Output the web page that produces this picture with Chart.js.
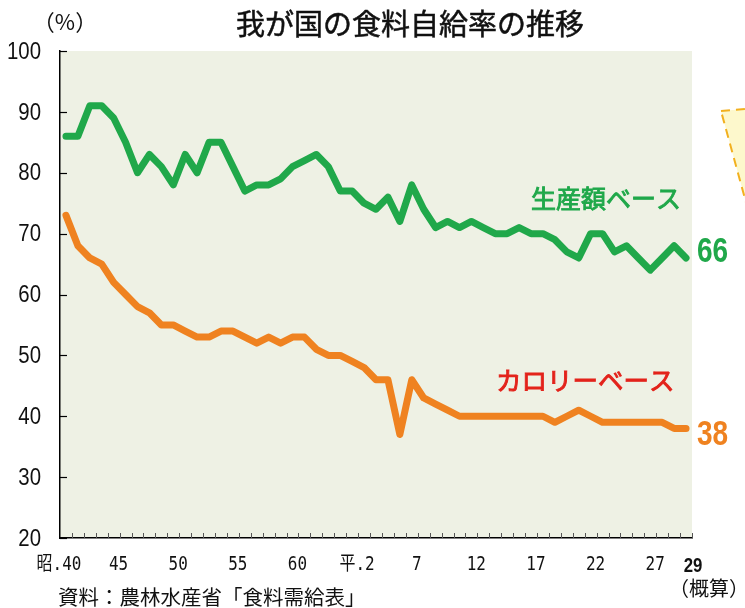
<!DOCTYPE html>
<html lang="ja">
<head>
  <meta charset="UTF-8" />
  <title>我が国の食料自給率の推移</title>
  <script src="https://cdn.jsdelivr.net/npm/chart.js"></script>
  <style>
    body { margin: 0; background: #fff; }
    canvas { display: block; }
  </style>
</head>
<body>
  <canvas id="chart" width="745" height="608"></canvas>
  <script>
    // 昭和40年(1965) 〜 平成29年(2017)
    const years = [];
    for (let y = 1965; y <= 2017; y++) years.push(y);

    // 生産額ベース
    const productionBase = [
      86, 86, 91, 91, 89, 85, 80, 83, 81, 78,
      83, 80, 85, 85, 81, 77, 78, 78, 79, 81,
      82, 83, 81, 77, 77, 75, 74, 76, 72, 78,
      74, 71, 72, 71, 72, 71, 70, 70, 71, 70,
      70, 69, 67, 66, 70, 70, 67, 68, 66, 64,
      66, 68, 66
    ];

    // カロリーベース
    const calorieBase = [
      73, 68, 66, 65, 62, 60, 58, 57, 55, 55,
      54, 53, 53, 54, 54, 53, 52, 53, 52, 53,
      53, 51, 50, 50, 49, 48, 46, 46, 37, 46,
      43, 42, 41, 40, 40, 40, 40, 40, 40, 40,
      40, 39, 40, 41, 40, 39, 39, 39, 39, 39,
      39, 38, 38
    ];

    const yTicks = [20, 30, 40, 50, 60, 70, 80, 90, 100];
    const tickYears = [1965, 1970, 1975, 1980, 1985, 1990, 1995, 2000, 2005, 2010, 2015, 2017];
    const xTickLabels = ['昭.40', '45', '50', '55', '60', '平.2', '7', '12', '17', '22', '27', '29'];

    const GREEN = '#20a84a';
    const ORANGE = '#ef8220';
    const RED = '#e3231b';
    const NUM_FONT = "'Liberation Sans', 'Noto Sans CJK JP', sans-serif";
    const MONO_FONT = "'DejaVu Sans Mono', 'Noto Sans CJK JP', monospace";
    const JP_FONT = "'Noto Sans CJK JP', sans-serif";

    // 細長い文字を描く（横方向に縮める）
    function narrowText(ctx, text, x, y, sx, align) {
      ctx.save();
      ctx.translate(x, y);
      ctx.scale(sx, 1);
      ctx.textAlign = align;
      ctx.fillText(text, 0, 0);
      ctx.restore();
    }

    // 少し太めの和文
    function heavyText(ctx, text, x, y, w) {
      ctx.fillText(text, x, y);
      ctx.lineWidth = w;
      ctx.strokeStyle = ctx.fillStyle;
      ctx.strokeText(text, x, y);
    }

    const decorations = {
      id: 'decorations',
      beforeDraw(chart) {
        const { ctx, chartArea: a } = chart;
        ctx.save();
        ctx.fillStyle = '#eef1e4';
        ctx.fillRect(a.left, a.top, a.right - a.left, a.bottom - a.top);

        // 右端の吹き出し（切れている部分）
        ctx.beginPath();
        ctx.moveTo(721, 111);
        ctx.lineTo(770, 107);
        ctx.lineTo(770, 290);
        ctx.closePath();
        ctx.fillStyle = '#fdf8cc';
        ctx.fill();
        ctx.setLineDash([9, 6]);
        ctx.strokeStyle = '#f2b01e';
        ctx.lineWidth = 2;
        ctx.stroke();
        ctx.restore();
      },
      afterDraw(chart) {
        const { ctx, chartArea: a, scales } = chart;
        const x = scales.x, y = scales.y;
        ctx.save();
        ctx.strokeStyle = '#000';
        ctx.lineWidth = 1.2;
        // 縦軸の目盛り（内向き）
        yTicks.forEach(v => {
          const py = Math.round(y.getPixelForValue(v)) + 0.5;
          ctx.beginPath();
          ctx.moveTo(a.left, py);
          ctx.lineTo(a.left + 7, py);
          ctx.stroke();
        });
        // 横軸の目盛り（年の境目）
        ctx.lineWidth = 1;
        ctx.strokeStyle = '#555';
        for (let yr = years[0] + 0.5; yr < years[years.length - 1] + 1; yr++) {
          const px = Math.round(x.getPixelForValue(yr)) + 0.5;
          ctx.beginPath();
          ctx.moveTo(px, a.bottom);
          ctx.lineTo(px, a.bottom - 5);
          ctx.stroke();
        }

        ctx.fillStyle = '#111';
        ctx.textBaseline = 'middle';

        // 目盛りラベル
        ctx.font = "24px " + NUM_FONT;
        yTicks.forEach(v => {
          narrowText(ctx, String(v), a.left - 19, y.getPixelForValue(v) + 1, 0.85, 'right');
        });
        ctx.font = "19px " + MONO_FONT;
        tickYears.forEach((yr, i) => {
          if (i === tickYears.length - 1) return;
          narrowText(ctx, xTickLabels[i], x.getPixelForValue(yr) - 7, 565, 0.84, 'center');
        });
        const lastX = x.getPixelForValue(years[years.length - 1]);
        ctx.font = "bold 21px " + NUM_FONT;
        narrowText(ctx, xTickLabels[xTickLabels.length - 1], lastX + 7, 566, 0.8, 'center');

        // タイトル等
        ctx.textAlign = 'center';
        ctx.font = "29px " + JP_FONT;
        heavyText(ctx, '我が国の食料自給率の推移', 410, 24, 0.5);
        ctx.font = "22px " + JP_FONT;
        ctx.fillText('（%）', 65, 22);
        ctx.font = "20px " + JP_FONT;
        ctx.fillText('（概算）', lastX + 23, 588);
        ctx.textAlign = 'left';
        ctx.font = "20.5px " + JP_FONT;
        ctx.fillText('資料：農林水産省「食料需給表」', 58, 597);

        // 系列ラベル
        ctx.font = "25px " + JP_FONT;
        ctx.fillStyle = GREEN;
        heavyText(ctx, '生産額ベース', 531, 198, 0.9);
        ctx.font = "25.5px " + JP_FONT;
        ctx.fillStyle = RED;
        heavyText(ctx, 'カロリーベース', 496, 380, 0.9);

        // 最終値
        const lastP = productionBase[productionBase.length - 1];
        const lastC = calorieBase[calorieBase.length - 1];
        ctx.font = "bold 35px " + NUM_FONT;
        ctx.fillStyle = GREEN;
        narrowText(ctx, String(lastP), lastX + 11, y.getPixelForValue(lastP) - 6, 0.8, 'left');
        ctx.fillStyle = ORANGE;
        narrowText(ctx, String(lastC), lastX + 11, y.getPixelForValue(lastC) + 7, 0.8, 'left');
        ctx.restore();
      }
    };

    const lineStyle = {
      borderWidth: 7,
      pointRadius: 0,
      tension: 0,
      borderCapStyle: 'round',
      borderJoinStyle: 'round',
      clip: false
    };

    new Chart(document.getElementById('chart'), {
      type: 'line',
      data: {
        datasets: [
          Object.assign({
            label: '生産額ベース',
            data: years.map((yr, i) => ({ x: yr, y: productionBase[i] })),
            borderColor: GREEN
          }, lineStyle),
          Object.assign({
            label: 'カロリーベース',
            data: years.map((yr, i) => ({ x: yr, y: calorieBase[i] })),
            borderColor: ORANGE
          }, lineStyle)
        ]
      },
      options: {
        responsive: false,
        animation: false,
        layout: { padding: { left: 0, top: 51, right: 53, bottom: 0 } },
        plugins: {
          legend: { display: false },
          tooltip: { enabled: false }
        },
        scales: {
          x: {
            type: 'linear',
            min: years[0] - 0.5,
            max: years[years.length - 1] + 0.5,
            afterBuildTicks: scale => {
              scale.ticks = tickYears.map(v => ({ value: v }));
            },
            afterFit: scale => { scale.height = 70; },
            grid: { drawOnChartArea: false, drawTicks: false },
            border: { color: '#000', width: 1.5 },
            ticks: { display: false }
          },
          y: {
            min: yTicks[0],
            max: yTicks[yTicks.length - 1],
            afterBuildTicks: scale => {
              scale.ticks = yTicks.map(v => ({ value: v }));
            },
            afterFit: scale => { scale.width = 60; },
            grid: { drawOnChartArea: false, drawTicks: false },
            border: { color: '#000', width: 1.5 },
            ticks: { display: false }
          }
        }
      },
      plugins: [decorations]
    });
  </script>
</body>
</html>
